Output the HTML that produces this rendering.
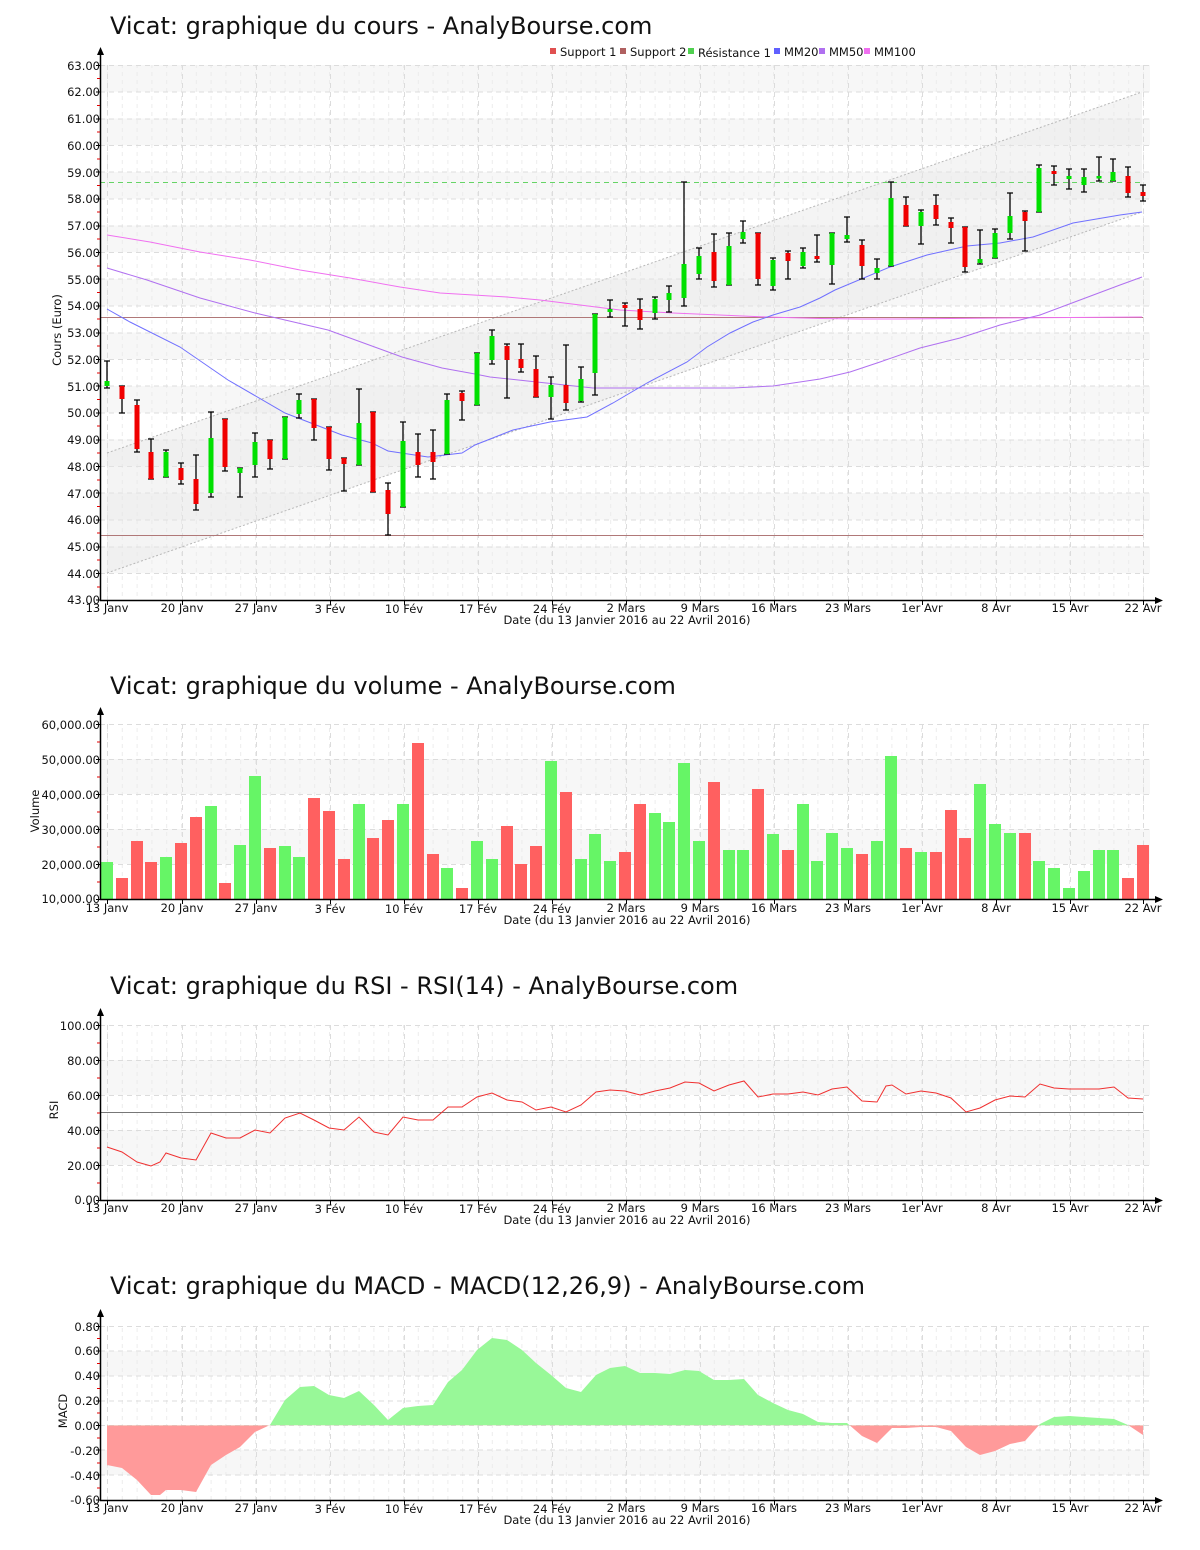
<!DOCTYPE html>
<html><head><meta charset="utf-8"><style>
html,body{margin:0;padding:0;background:#fff}
svg{display:block}
text{font-family:"DejaVu Sans","Liberation Sans",sans-serif;fill:#111}
.t{font-size:24px}
.l{font-size:11.5px}
</style></head><body>
<svg width="1200" height="1550" viewBox="0 0 1200 1550" xmlns="http://www.w3.org/2000/svg">
<defs>
<pattern id="mv" x="107" y="0" width="14.8" height="8" patternUnits="userSpaceOnUse"><line x1="0.5" y1="0" x2="0.5" y2="4" stroke="#ececec" stroke-width="1"/></pattern>
<clipPath id="up"><rect x="100" y="1300" width="1060" height="125.4"/></clipPath>
<clipPath id="dn"><rect x="100" y="1425.4" width="1060" height="100"/></clipPath>
</defs>

<!-- ================= PRICE CHART ================= -->
<text class="t" x="110" y="34">Vicat: graphique du cours - AnalyBourse.com</text>
<g class="l">
<rect x="550" y="48" width="6" height="6" fill="#e05050"/><text class="l" x="560" y="56">Support 1</text>
<rect x="620" y="48" width="6" height="6" fill="#b06060"/><text class="l" x="630" y="56">Support 2</text>
<rect x="688" y="48" width="6" height="6" fill="#50d050"/><text class="l" x="698" y="57">Résistance 1</text>
<rect x="774" y="48" width="6" height="6" fill="#6060ff"/><text class="l" x="784" y="56">MM20</text>
<rect x="819" y="48" width="6" height="6" fill="#b070f0"/><text class="l" x="829" y="56">MM50</text>
<rect x="864" y="48" width="6" height="6" fill="#f070f0"/><text class="l" x="874" y="56">MM100</text>
</g>
<g fill="#f7f7f7">
<rect x="100" y="65" width="1050" height="26.75"/><rect x="100" y="118.5" width="1050" height="26.75"/>
<rect x="100" y="172" width="1050" height="26.75"/><rect x="100" y="225.5" width="1050" height="26.75"/>
<rect x="100" y="279" width="1050" height="26.75"/><rect x="100" y="332.5" width="1050" height="26.75"/>
<rect x="100" y="386" width="1050" height="26.75"/><rect x="100" y="439.5" width="1050" height="26.75"/>
<rect x="100" y="493" width="1050" height="26.75"/><rect x="100" y="546.5" width="1050" height="26.75"/>
</g>
<rect x="100" y="65" width="1050" height="535" fill="url(#mv)"/>
<path d="M100,65.5H1150M100,92H1150M100,119H1150M100,145.5H1150M100,172H1150M100,199H1150M100,226H1150M100,252.5H1150M100,279H1150M100,306H1150M100,333H1150M100,359.5H1150M100,386H1150M100,413H1150M100,440H1150M100,466.5H1150M100,493H1150M100,520H1150M100,547H1150M100,573.5H1150M107.5,65V600M182.5,65V600M256.5,65V600M330.5,65V600M404.5,65V600M478.5,65V600M552.5,65V600M626.5,65V600M700.5,65V600M774.5,65V600M848.5,65V600M922.5,65V600M996.5,65V600M1070.5,65V600M1143.5,65V600" stroke="#dcdcdc" stroke-dasharray="5,4" fill="none"/>
<polygon points="107,453 1142,92 1142,212 107,573" fill="#e6e6e6" fill-opacity="0.45"/>
<path d="M107,453L1142,92M107,573L1142,212" stroke="#b8b8b8" stroke-dasharray="2,2" fill="none"/>
<path d="M100,317.5H1143M100,535.5H1143" stroke="#b07878" stroke-width="1"/>
<path d="M100,182.5H1143" stroke="#66d466" stroke-dasharray="5,4"/>
<polyline fill="none" stroke="#f070f0" points="107,235 150,242 200,252 250,260 300,270 350,278 400,287 440,293 507,297 540,300 580,305 620,310 673,313 767,317 820,318.5 860,319 900,319 1000,318 1142,317"/>
<polyline fill="none" stroke="#b070f0" points="107,268 147,280 200,298 255,313 328,330 402,357 442,368 475,374 490,377 593,388 733,388 773,386 820,379 850,372 880,362 920,348 960,338 1000,325 1040,315 1080,300 1120,285 1142,277"/>
<polyline fill="none" stroke="#7070ff" points="107,309 130,322 180,347 228,380 285,413 342,435 372,443 388,451 428,457 462,453 475,445 513,430 550,422 587,417 613,403 647,383 687,362 707,347 730,333 753,322 773,315 800,307 820,298 835,290 890,267 927,255 967,246 1000,243 1033,237 1073,223 1120,215 1142,212"/>
<path fill="none" stroke="#000" stroke-width="1.3" d="
M107,361V388M122,386V413M137,400V452M151,439V479M166,450V477M181,463V484M196,455V510M211,412V497M225,419V471M240,468V497
M255,433V477M270,440V469M285,417V459M299,394V418M314,399V440M329,427V470M344,458V491M359,389V465M373,412V492M388,483V535
M403,422V507M418,434V477M433,430V479M447,394V454M462,391V420M477,353V405M492,330V364M507,344V398M521,344V372M536,356V397
M551,377V419M566,345V410M581,367V402M595,314V395M610,300V317M625,303V326M640,299V329M655,297V319M669,286V312M684,182V306
M699,248V279M714,234V287M729,233V285M743,221V243M758,233V285M773,258V290M788,251V279M803,248V268M817,235V262M832,233V284
M847,217V242M862,240V279M877,259V279M891,182V266M906,197V226M921,210V244M936,195V225M951,218V243M965,227V272M980,230V264
M995,229V258M1010,193V239M1025,211V251M1039,165V212M1054,166V185M1069,169V189M1084,169V192M1099,157V181M1113,159V181M1128,167V197M1143,185V201"/>
<path fill="none" stroke="#000" stroke-width="1.3" d="
M104,361h6M104,388h6M119,386h6M119,413h6M134,400h6M134,452h6M148,439h6M148,479h6M163,450h6M163,477h6M178,463h6M178,484h6M193,455h6M193,510h6M208,412h6M208,497h6M222,419h6M222,471h6M237,468h6M237,497h6
M252,433h6M252,477h6M267,440h6M267,469h6M282,417h6M282,459h6M296,394h6M296,418h6M311,399h6M311,440h6M326,427h6M326,470h6M341,458h6M341,491h6M356,389h6M356,465h6M370,412h6M370,492h6M385,483h6M385,535h6
M400,422h6M400,507h6M415,434h6M415,477h6M430,430h6M430,479h6M444,394h6M444,454h6M459,391h6M459,420h6M474,353h6M474,405h6M489,330h6M489,364h6M504,344h6M504,398h6M518,344h6M518,372h6M533,356h6M533,397h6
M548,377h6M548,419h6M563,345h6M563,410h6M578,367h6M578,402h6M592,314h6M592,395h6M607,300h6M607,317h6M622,303h6M622,326h6M637,299h6M637,329h6M652,297h6M652,319h6M666,286h6M666,312h6M681,182h6M681,306h6
M696,248h6M696,279h6M711,234h6M711,287h6M726,233h6M726,285h6M740,221h6M740,243h6M755,233h6M755,285h6M770,258h6M770,290h6M785,251h6M785,279h6M800,248h6M800,268h6M814,235h6M814,262h6M829,233h6M829,284h6
M844,217h6M844,242h6M859,240h6M859,279h6M874,259h6M874,279h6M888,182h6M888,266h6M903,197h6M903,226h6M918,210h6M918,244h6M933,195h6M933,225h6M948,218h6M948,243h6M962,227h6M962,272h6M977,230h6M977,264h6
M992,229h6M992,258h6M1007,193h6M1007,239h6M1022,211h6M1022,251h6M1036,165h6M1036,212h6M1051,166h6M1051,185h6M1066,169h6M1066,189h6M1081,169h6M1081,192h6M1096,157h6M1096,181h6M1110,159h6M1110,181h6M1125,167h6M1125,197h6M1140,185h6M1140,201h6"/>
<path fill="none" stroke="#00e000" stroke-width="5" d="M107,381V386M166,452V477M211,438V493M240,468V473M255,442V465M285,417V459M299,400V414M359,423V465M403,441V507M447,400V454M477,353V405M492,336V360M551,385V397M581,379V401M595,314V373M610,309V312M655,299V313M669,293V300M684,264V298M699,256V274M729,246V285M743,232V239M773,260V286M803,252V266M832,233V265M847,235V239M877,268V273M891,198V266M921,212V226M980,259V263M995,233V258M1010,216V233M1039,168V212M1069,176V179M1084,177V185M1099,176V178.5M1113,172V181"/>
<path fill="none" stroke="#f00000" stroke-width="5" d="M122,386V399M137,405V449M151,452V479M181,468V480M196,479V504M225,419V467M270,440V459M314,399V428M329,427V459M344,458V464M373,412V492M388,490V514M418,452V465M433,452V462M462,393V401M507,346V360M521,359V368M536,369V397M566,385V403M625,305V308M640,309V320M714,252V281M758,233V279M788,253V261M817,256V259M862,245V266M906,205V226M936,205V219M951,222V228M965,227V267M1025,212V221M1054,171V174M1128,176V193M1143,192V196"/>
<path d="M100.5,50V600.5H1158" stroke="#000" stroke-width="1.5" fill="none"/>
<polygon points="100.5,47 97,55 104,55" fill="#000"/><polygon points="1163,600.5 1155,597 1155,604" fill="#000"/>
<path d="M96,65.5h4M96,92h4M96,119h4M96,145.5h4M96,172h4M96,199h4M96,226h4M96,252.5h4M96,279h4M96,306h4M96,333h4M96,359.5h4M96,386h4M96,413h4M96,440h4M96,466.5h4M96,493h4M96,520h4M96,547h4M96,573.5h4M96,600h4" stroke="#000"/>
<path d="M97,78.5h3M97,105.5h3M97,132h3M97,159h3M97,185.5h3M97,212h3M97,239h3M97,266h3M97,292.5h3M97,319h3M97,346h3M97,373h3M97,399.5h3M97,426h3M97,453h3M97,480h3M97,506.5h3M97,533h3M97,560h3M97,587h3" stroke="#e00000"/>
<path d="M107.5,600v5M182.5,600v5M256.5,600v5M330.5,600v5M404.5,600v5M478.5,600v5M552.5,600v5M626.5,600v5M700.5,600v5M774.5,600v5M848.5,600v5M922.5,600v5M996.5,600v5M1070.5,600v5M1143.5,600v5" stroke="#000"/>
<g class="l" text-anchor="end">
<text x="100" y="70">63.00</text><text x="100" y="96">62.00</text><text x="100" y="123">61.00</text><text x="100" y="150">60.00</text><text x="100" y="177">59.00</text><text x="100" y="203">58.00</text><text x="100" y="230">57.00</text><text x="100" y="257">56.00</text><text x="100" y="284">55.00</text><text x="100" y="310">54.00</text><text x="100" y="337">53.00</text><text x="100" y="364">52.00</text><text x="100" y="391">51.00</text><text x="100" y="417">50.00</text><text x="100" y="444">49.00</text><text x="100" y="471">48.00</text><text x="100" y="498">47.00</text><text x="100" y="524">46.00</text><text x="100" y="551">45.00</text><text x="100" y="578">44.00</text><text x="100" y="604">43.00</text>
</g>
<g class="l" text-anchor="middle">
<text x="107" y="612">13 Janv</text><text x="182" y="612">20 Janv</text><text x="256" y="612">27 Janv</text><text x="330" y="613">3 Fév</text><text x="404" y="613">10 Fév</text><text x="478" y="613">17 Fév</text><text x="552" y="613">24 Fév</text><text x="626" y="612">2 Mars</text><text x="700" y="612">9 Mars</text><text x="774" y="612">16 Mars</text><text x="848" y="612">23 Mars</text><text x="922" y="612">1er Avr</text><text x="996" y="612">8 Avr</text><text x="1070" y="612">15 Avr</text><text x="1143" y="612">22 Avr</text>
<text x="627" y="624">Date (du 13 Janvier 2016 au 22 Avril 2016)</text>
<text transform="translate(61,330) rotate(-90)">Cours (Euro)</text>
</g>

<!-- ================= VOLUME CHART ================= -->
<text class="t" x="110" y="694">Vicat: graphique du volume - AnalyBourse.com</text>
<rect x="100" y="759" width="1050" height="35" fill="#f7f7f7"/><rect x="100" y="829" width="1050" height="35" fill="#f7f7f7"/>
<rect x="100" y="724" width="1050" height="175" fill="url(#mv)"/>
<path d="M100,724.5H1150M100,759.5H1150M100,794.5H1150M100,829.5H1150M100,864.5H1150M107.5,724V899M182.5,724V899M256.5,724V899M330.5,724V899M404.5,724V899M478.5,724V899M552.5,724V899M626.5,724V899M700.5,724V899M774.5,724V899M848.5,724V899M922.5,724V899M996.5,724V899M1070.5,724V899M1143.5,724V899" stroke="#dcdcdc" stroke-dasharray="5,4" fill="none"/>
<g fill="#66f566">
<rect x="101" y="862" width="12" height="37"/><rect x="160" y="857" width="12" height="42"/><rect x="205" y="806" width="12" height="93"/><rect x="234" y="845" width="12" height="54"/><rect x="249" y="776" width="12" height="123"/><rect x="279" y="846" width="12" height="53"/><rect x="293" y="857" width="12" height="42"/><rect x="353" y="804" width="12" height="95"/><rect x="397" y="804" width="12" height="95"/><rect x="441" y="868" width="12" height="31"/><rect x="471" y="841" width="12" height="58"/><rect x="486" y="859" width="12" height="40"/><rect x="545" y="761" width="12" height="138"/><rect x="575" y="859" width="12" height="40"/><rect x="589" y="834" width="12" height="65"/><rect x="604" y="861" width="12" height="38"/><rect x="649" y="813" width="12" height="86"/><rect x="663" y="822" width="12" height="77"/><rect x="678" y="763" width="12" height="136"/><rect x="693" y="841" width="12" height="58"/><rect x="723" y="850" width="12" height="49"/><rect x="737" y="850" width="12" height="49"/><rect x="767" y="834" width="12" height="65"/><rect x="797" y="804" width="12" height="95"/><rect x="811" y="861" width="12" height="38"/><rect x="826" y="833" width="12" height="66"/><rect x="841" y="848" width="12" height="51"/><rect x="871" y="841" width="12" height="58"/><rect x="885" y="756" width="12" height="143"/><rect x="915" y="852" width="12" height="47"/><rect x="974" y="784" width="12" height="115"/><rect x="989" y="824" width="12" height="75"/><rect x="1004" y="833" width="12" height="66"/><rect x="1033" y="861" width="12" height="38"/><rect x="1048" y="868" width="12" height="31"/><rect x="1063" y="888" width="12" height="11"/><rect x="1078" y="871" width="12" height="28"/><rect x="1093" y="850" width="12" height="49"/><rect x="1107" y="850" width="12" height="49"/>
</g>
<g fill="#ff6060">
<rect x="116" y="878" width="12" height="21"/><rect x="131" y="841" width="12" height="58"/><rect x="145" y="862" width="12" height="37"/><rect x="175" y="843" width="12" height="56"/><rect x="190" y="817" width="12" height="82"/><rect x="219" y="883" width="12" height="16"/><rect x="264" y="848" width="12" height="51"/><rect x="308" y="798" width="12" height="101"/><rect x="323" y="811" width="12" height="88"/><rect x="338" y="859" width="12" height="40"/><rect x="367" y="838" width="12" height="61"/><rect x="382" y="820" width="12" height="79"/><rect x="412" y="743" width="12" height="156"/><rect x="427" y="854" width="12" height="45"/><rect x="456" y="888" width="12" height="11"/><rect x="501" y="826" width="12" height="73"/><rect x="515" y="864" width="12" height="35"/><rect x="530" y="846" width="12" height="53"/><rect x="560" y="792" width="12" height="107"/><rect x="619" y="852" width="12" height="47"/><rect x="634" y="804" width="12" height="95"/><rect x="708" y="782" width="12" height="117"/><rect x="752" y="789" width="12" height="110"/><rect x="782" y="850" width="12" height="49"/><rect x="856" y="854" width="12" height="45"/><rect x="900" y="848" width="12" height="51"/><rect x="930" y="852" width="12" height="47"/><rect x="945" y="810" width="12" height="89"/><rect x="959" y="838" width="12" height="61"/><rect x="1019" y="833" width="12" height="66"/><rect x="1122" y="878" width="12" height="21"/><rect x="1137" y="845" width="12" height="54"/>
</g>
<path d="M100.5,710V899.5H1158" stroke="#000" stroke-width="1.5" fill="none"/>
<polygon points="100.5,707 97,715 104,715" fill="#000"/><polygon points="1163,899.5 1155,896 1155,903" fill="#000"/>
<path d="M96,724.5h4M96,759.5h4M96,794.5h4M96,829.5h4M96,864.5h4M96,899.5h4" stroke="#000"/>
<path d="M97,742h3M97,777h3M97,812h3M97,847h3M97,882h3" stroke="#e00000"/>
<path d="M107.5,899v5M182.5,899v5M256.5,899v5M330.5,899v5M404.5,899v5M478.5,899v5M552.5,899v5M626.5,899v5M700.5,899v5M774.5,899v5M848.5,899v5M922.5,899v5M996.5,899v5M1070.5,899v5M1143.5,899v5" stroke="#000"/>
<g class="l" text-anchor="end">
<text x="100" y="729">60,000.00</text><text x="100" y="764">50,000.00</text><text x="100" y="799">40,000.00</text><text x="100" y="834">30,000.00</text><text x="100" y="869">20,000.00</text><text x="100" y="903">10,000.00</text>
</g>
<g class="l" text-anchor="middle">
<text x="107" y="912">13 Janv</text><text x="182" y="912">20 Janv</text><text x="256" y="912">27 Janv</text><text x="330" y="913">3 Fév</text><text x="404" y="913">10 Fév</text><text x="478" y="913">17 Fév</text><text x="552" y="913">24 Fév</text><text x="626" y="912">2 Mars</text><text x="700" y="912">9 Mars</text><text x="774" y="912">16 Mars</text><text x="848" y="912">23 Mars</text><text x="922" y="912">1er Avr</text><text x="996" y="912">8 Avr</text><text x="1070" y="912">15 Avr</text><text x="1143" y="912">22 Avr</text>
<text x="627" y="924">Date (du 13 Janvier 2016 au 22 Avril 2016)</text>
<text transform="translate(39,811) rotate(-90)">Volume</text>
</g>

<!-- ================= RSI CHART ================= -->
<text class="t" x="110" y="994">Vicat: graphique du RSI - RSI(14) - AnalyBourse.com</text>
<rect x="100" y="1060" width="1050" height="35" fill="#f7f7f7"/><rect x="100" y="1130" width="1050" height="35" fill="#f7f7f7"/>
<rect x="100" y="1025" width="1050" height="175" fill="url(#mv)"/>
<path d="M100,1025.5H1150M100,1060.5H1150M100,1095.5H1150M100,1130.5H1150M100,1165.5H1150M107.5,1025V1200M182.5,1025V1200M256.5,1025V1200M330.5,1025V1200M404.5,1025V1200M478.5,1025V1200M552.5,1025V1200M626.5,1025V1200M700.5,1025V1200M774.5,1025V1200M848.5,1025V1200M922.5,1025V1200M996.5,1025V1200M1070.5,1025V1200M1143.5,1025V1200" stroke="#dcdcdc" stroke-dasharray="5,4" fill="none"/>
<path d="M100,1112.5H1143" stroke="#777"/>
<polyline fill="none" stroke="#f03030" points="107,1147 122,1152 137,1162 151,1166 160,1162 166,1153 181,1158 196,1160 211,1133 226,1138 240,1138 255,1130 270,1133 285,1118 300,1113 314,1120 329,1128 344,1130 359,1117 374,1132 388,1135 403,1117 418,1120 433,1120 448,1107 462,1107 477,1097 492,1093 507,1100 522,1102 536,1110 551,1107 566,1112 581,1105 596,1092 610,1090 625,1091 640,1095 655,1091 670,1088 685,1082 699,1083 714,1091 729,1085 744,1081 758,1097 773,1094 788,1094 803,1092 818,1095 832,1089 847,1087 862,1101 877,1102 886,1086 892,1085 906,1094 921,1091 936,1093 951,1098 966,1112 980,1108 995,1100 1010,1096 1025,1097 1040,1084 1054,1088 1069,1089 1084,1089 1099,1089 1114,1087 1128,1098 1143,1099"/>
<path d="M100.5,1011V1200.5H1158" stroke="#000" stroke-width="1.5" fill="none"/>
<polygon points="100.5,1008 97,1016 104,1016" fill="#000"/><polygon points="1163,1200.5 1155,1197 1155,1204" fill="#000"/>
<path d="M96,1025.5h4M96,1060.5h4M96,1095.5h4M96,1130.5h4M96,1165.5h4M96,1200.5h4" stroke="#000"/>
<path d="M97,1043h3M97,1078h3M97,1113h3M97,1148h3M97,1183h3" stroke="#e00000"/>
<path d="M107.5,1200v5M182.5,1200v5M256.5,1200v5M330.5,1200v5M404.5,1200v5M478.5,1200v5M552.5,1200v5M626.5,1200v5M700.5,1200v5M774.5,1200v5M848.5,1200v5M922.5,1200v5M996.5,1200v5M1070.5,1200v5M1143.5,1200v5" stroke="#000"/>
<g class="l" text-anchor="end">
<text x="100" y="1030">100.00</text><text x="100" y="1065">80.00</text><text x="100" y="1100">60.00</text><text x="100" y="1135">40.00</text><text x="100" y="1170">20.00</text><text x="100" y="1204">0.00</text>
</g>
<g class="l" text-anchor="middle">
<text x="107" y="1212">13 Janv</text><text x="182" y="1212">20 Janv</text><text x="256" y="1212">27 Janv</text><text x="330" y="1213">3 Fév</text><text x="404" y="1213">10 Fév</text><text x="478" y="1213">17 Fév</text><text x="552" y="1213">24 Fév</text><text x="626" y="1212">2 Mars</text><text x="700" y="1212">9 Mars</text><text x="774" y="1212">16 Mars</text><text x="848" y="1212">23 Mars</text><text x="922" y="1212">1er Avr</text><text x="996" y="1212">8 Avr</text><text x="1070" y="1212">15 Avr</text><text x="1143" y="1212">22 Avr</text>
<text x="627" y="1224">Date (du 13 Janvier 2016 au 22 Avril 2016)</text>
<text transform="translate(58,1110) rotate(-90)">RSI</text>
</g>

<!-- ================= MACD CHART ================= -->
<text class="t" x="110" y="1294">Vicat: graphique du MACD - MACD(12,26,9) - AnalyBourse.com</text>
<rect x="100" y="1351" width="1050" height="25" fill="#f7f7f7"/><rect x="100" y="1450" width="1050" height="25" fill="#f7f7f7"/>
<rect x="100" y="1326" width="1050" height="174" fill="url(#mv)"/>
<path d="M100,1326.5H1150M100,1351H1150M100,1376H1150M100,1401H1150M100,1425.5H1150M100,1450H1150M100,1475H1150M107.5,1326V1500M182.5,1326V1500M256.5,1326V1500M330.5,1326V1500M404.5,1326V1500M478.5,1326V1500M552.5,1326V1500M626.5,1326V1500M700.5,1326V1500M774.5,1326V1500M848.5,1326V1500M922.5,1326V1500M996.5,1326V1500M1070.5,1326V1500M1143.5,1326V1500" stroke="#dcdcdc" stroke-dasharray="5,4" fill="none"/>
<g>
<polygon clip-path="url(#up)" fill="#98f898" points="107,1425.4 107,1465 122,1468 137,1480 151,1495 160,1495 166,1490 181,1490 196,1492 211,1465 226,1455 240,1447 255,1432 270,1425 285,1400 300,1387 314,1386 329,1395 344,1398 359,1391 374,1405 388,1420 403,1408 418,1406 433,1405 448,1382 462,1370 477,1350 492,1338 507,1340 522,1350 536,1363 551,1375 566,1388 581,1392 596,1375 610,1368 625,1366 640,1373 655,1373 670,1374 685,1370 699,1371 714,1380 729,1380 744,1379 758,1395 773,1403 788,1410 803,1414 818,1422 832,1423 847,1423 862,1436 877,1443 892,1428 906,1428 921,1427 936,1427 951,1431 966,1447 980,1455 995,1451 1010,1444 1025,1441 1040,1424 1054,1417 1069,1416 1084,1417 1099,1418 1114,1419 1128,1425 1143,1435 1143,1425.4"/>
<polygon clip-path="url(#dn)" fill="#ff9a9a" points="107,1425.4 107,1465 122,1468 137,1480 151,1495 160,1495 166,1490 181,1490 196,1492 211,1465 226,1455 240,1447 255,1432 270,1425 285,1400 300,1387 314,1386 329,1395 344,1398 359,1391 374,1405 388,1420 403,1408 418,1406 433,1405 448,1382 462,1370 477,1350 492,1338 507,1340 522,1350 536,1363 551,1375 566,1388 581,1392 596,1375 610,1368 625,1366 640,1373 655,1373 670,1374 685,1370 699,1371 714,1380 729,1380 744,1379 758,1395 773,1403 788,1410 803,1414 818,1422 832,1423 847,1423 862,1436 877,1443 892,1428 906,1428 921,1427 936,1427 951,1431 966,1447 980,1455 995,1451 1010,1444 1025,1441 1040,1424 1054,1417 1069,1416 1084,1417 1099,1418 1114,1419 1128,1425 1143,1435 1143,1425.4"/>
</g>
<path d="M100.5,1312V1500.5H1158" stroke="#000" stroke-width="1.5" fill="none"/>
<polygon points="100.5,1309 97,1317 104,1317" fill="#000"/><polygon points="1163,1500.5 1155,1497 1155,1504" fill="#000"/>
<path d="M96,1326.5h4M96,1351h4M96,1376h4M96,1401h4M96,1425.5h4M96,1450h4M96,1475h4M96,1500h4" stroke="#000"/>
<path d="M97,1338.5h3M97,1363.5h3M97,1388.5h3M97,1413h3M97,1438h3M97,1463h3M97,1488h3" stroke="#e00000"/>
<path d="M107.5,1500v5M182.5,1500v5M256.5,1500v5M330.5,1500v5M404.5,1500v5M478.5,1500v5M552.5,1500v5M626.5,1500v5M700.5,1500v5M774.5,1500v5M848.5,1500v5M922.5,1500v5M996.5,1500v5M1070.5,1500v5M1143.5,1500v5" stroke="#000"/>
<g class="l" text-anchor="end">
<text x="100" y="1331">0.80</text><text x="100" y="1355">0.60</text><text x="100" y="1380">0.40</text><text x="100" y="1405">0.20</text><text x="100" y="1430">0.00</text><text x="100" y="1455">-0.20</text><text x="100" y="1480">-0.40</text><text x="100" y="1504">-0.60</text>
</g>
<g class="l" text-anchor="middle">
<text x="107" y="1512">13 Janv</text><text x="182" y="1512">20 Janv</text><text x="256" y="1512">27 Janv</text><text x="330" y="1513">3 Fév</text><text x="404" y="1513">10 Fév</text><text x="478" y="1513">17 Fév</text><text x="552" y="1513">24 Fév</text><text x="626" y="1512">2 Mars</text><text x="700" y="1512">9 Mars</text><text x="774" y="1512">16 Mars</text><text x="848" y="1512">23 Mars</text><text x="922" y="1512">1er Avr</text><text x="996" y="1512">8 Avr</text><text x="1070" y="1512">15 Avr</text><text x="1143" y="1512">22 Avr</text>
<text x="627" y="1524">Date (du 13 Janvier 2016 au 22 Avril 2016)</text>
<text transform="translate(67,1411) rotate(-90)">MACD</text>
</g>
</svg>
</body></html>
